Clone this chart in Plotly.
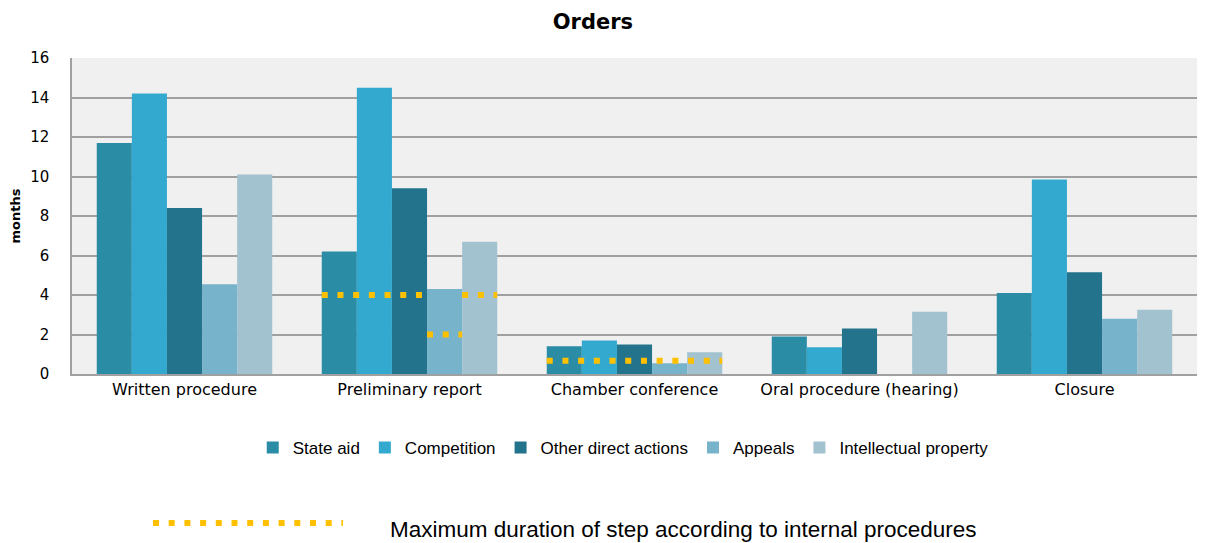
import plotly.graph_objects as go

categories = ["Written procedure", "Preliminary report", "Chamber conference",
              "Oral procedure (hearing)", "Closure"]
series = ["State aid", "Competition", "Other direct actions", "Appeals", "Intellectual property"]

state_aid = [11.7, 6.2, 1.4, 1.9, 4.1]
competition = [14.2, 14.5, 1.7, 1.35, 9.85]
other_direct = [8.4, 9.4, 1.5, 2.3, 5.15]
appeals = [4.55, 4.3, 0.55, 0, 2.8]
intellectual = [10.1, 6.7, 1.1, 3.15, 3.25]

# maximum duration per step (per series) where defined
max_prelim = [4, 4, 4, 2, 4]
max_chamber = [0.67, 0.67, 0.67, 0.67, 0.67]
max_steps = {1: max_prelim, 2: max_chamber}

colors = ["#2b8ca6", "#34a9cf", "#22738b", "#78b3cc", "#a2c2cf"]
values = [state_aid, competition, other_direct, appeals, intellectual]

bargap = 0.22
bw = (1 - bargap) / len(series)
dots = dict(color="#ffc000", width=6, dash="6px,9.7px")

fig = go.Figure()

for name, vals, col in zip(series, values, colors):
    fig.add_trace(go.Bar(x=list(range(len(categories))), y=vals, name=name,
                         marker=dict(color=col, line=dict(width=0))))

# dotted "maximum duration" segments over the bars
for ci, limits in max_steps.items():
    xs, ys = [], []
    prev = None
    for i, v in enumerate(limits):
        left = ci - (1 - bargap) / 2 + i * bw
        if prev is not None and v != prev:
            xs.append(None)
            ys.append(None)
        xs += [left, left + bw]
        ys += [v, v]
        prev = v
    fig.add_trace(go.Scatter(x=xs, y=ys, mode="lines", showlegend=False,
                             line=dots, hoverinfo="skip"))

fig.update_layout(
    width=1201, height=535,
    margin=dict(l=64, r=12, t=50, b=169),
    paper_bgcolor="white", plot_bgcolor="#f0f0f0",
    barmode="group", bargap=bargap, bargroupgap=0,
    font=dict(family="DejaVu Sans", size=14, color="black"),
    title=dict(text="<b>Orders</b>", x=0.487, xanchor="center", y=0.974, yanchor="middle",
               font=dict(family="DejaVu Sans", size=21)),
    legend=dict(orientation="h", x=0.49, xanchor="center", y=-0.177, yanchor="top",
                font=dict(family="Liberation Sans", size=17), itemwidth=30,
                traceorder="normal"),
    xaxis=dict(tickmode="array", tickvals=list(range(len(categories))), ticktext=categories,
               range=[-0.5, 4.5], showgrid=False, zeroline=False, automargin=False,
               showline=True, linecolor="#a0a0a0", linewidth=1.5, ticks="",
               tickfont=dict(size=16)),
    yaxis=dict(range=[0, 16], dtick=2, showgrid=True, gridcolor="#a0a0a0", gridwidth=1.5,
               zeroline=False, showline=True, linecolor="#a0a0a0", linewidth=1.5,
               ticks="", ticklabelstandoff=18, automargin=False,
               title=dict(text="<b>months</b>", font=dict(size=13), standoff=16),
               tickfont=dict(size=15)),
)

# legend key for the dotted line
fig.add_shape(type="line", xref="paper", yref="paper",
              x0=(153 - 72) / 1125, x1=(343 - 72) / 1125,
              y0=-(523 - 374) / 316, y1=-(523 - 374) / 316,
              line=dots)
fig.add_annotation(xref="paper", yref="paper", x=(388 - 72) / 1125, y=-(529 - 374) / 316,
                   xanchor="left", yanchor="middle", showarrow=False,
                   text="Maximum duration of step according to internal procedures",
                   font=dict(family="Liberation Sans", size=22.5))

fig.write_html("out.html")
